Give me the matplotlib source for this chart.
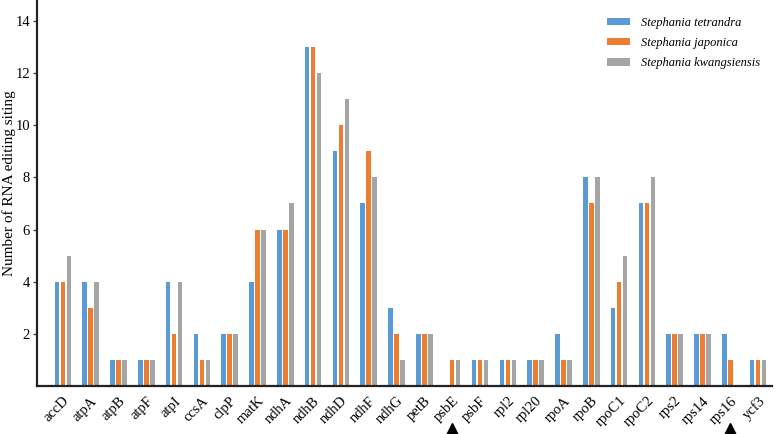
import numpy as np
import matplotlib.pyplot as plt
from matplotlib.transforms import blended_transform_factory

# gene names and RNA editing site counts per species
genes = ["accD", "atpA", "atpB", "atpF", "atpI", "ccsA", "clpP", "matK", "ndhA", "ndhB",
         "ndhD", "ndhF", "ndhG", "petB", "psbE", "psbF", "rpl2", "rpl20", "rpoA", "rpoB",
         "rpoC1", "rpoC2", "rps2", "rps14", "rps16", "ycf3"]
tetrandra = [4, 4, 1, 1, 4, 2, 2, 4, 6, 13, 9, 7, 3, 2, 0, 1, 1, 1, 2, 8, 3, 7, 2, 2, 2, 1]
japonica = [4, 3, 1, 1, 2, 1, 2, 6, 6, 13, 10, 9, 2, 2, 1, 1, 1, 1, 1, 7, 4, 7, 2, 2, 1, 1]
kwangsiensis = [5, 4, 1, 1, 4, 1, 2, 6, 7, 12, 11, 8, 1, 2, 1, 1, 1, 1, 1, 8, 5, 8, 2, 2, 0, 1]
species = ["Stephania tetrandra", "Stephania japonica", "Stephania kwangsiensis"]
colors = ["#5B9BD5", "#ED7D31", "#A5A5A5"]
marked = ["psbE", "rps16"]
yticks = [2, 4, 6, 8, 10, 12, 14]

plt.rcParams['font.family'] = ['Liberation Serif', 'DejaVu Serif']

fig = plt.figure(figsize=(7.77, 4.34), dpi=100)
ax = fig.add_axes([0.0476, 0.1106, 0.946, 0.8894])

x = np.arange(len(genes))
width = 0.165
step = 0.215
for i, (vals, name, c) in enumerate(zip([tetrandra, japonica, kwangsiensis], species, colors)):
    ax.bar(x + (i - 1) * step, vals, width, color=c, label=name)

ax.set_xlim(-0.93, len(genes) - 0.5)
ax.set_ylim(0, 14.8)
ax.set_yticks(yticks)
ax.set_xticks(x)
ax.set_xticklabels(genes, rotation=45, ha='right', rotation_mode='anchor', fontsize=10.5)
ax.tick_params(axis='x', length=0, pad=6)
ax.tick_params(axis='y', length=3, width=1, pad=2, labelsize=10.5, color="#444444")

# y label placed by hand so it stays inside the figure
fig.text(9 / 777, 1 - 183 / 434, "Number of RNA editing siting", rotation=90,
         ha='center', va='center', fontsize=11)

for s in ["top", "right"]:
    ax.spines[s].set_visible(False)
for s in ["left", "bottom"]:
    ax.spines[s].set_linewidth(1.6)
    ax.spines[s].set_color("#222222")

# triangle markers under selected genes
trans = blended_transform_factory(ax.transData, ax.transAxes)
for g in marked:
    ax.plot(genes.index(g), -0.112, marker='^', color='black', markersize=9,
            transform=trans, clip_on=False)

leg = fig.legend(loc='upper left', bbox_to_anchor=(607 / 777, 1 - 17 / 434), frameon=False,
                 prop={'style': 'italic', 'size': 9}, handlelength=1.85,
                 handleheight=0.55, labelspacing=0.65, handletextpad=0.9,
                 borderpad=0, borderaxespad=0)

fig.savefig("out.png", dpi=100)
